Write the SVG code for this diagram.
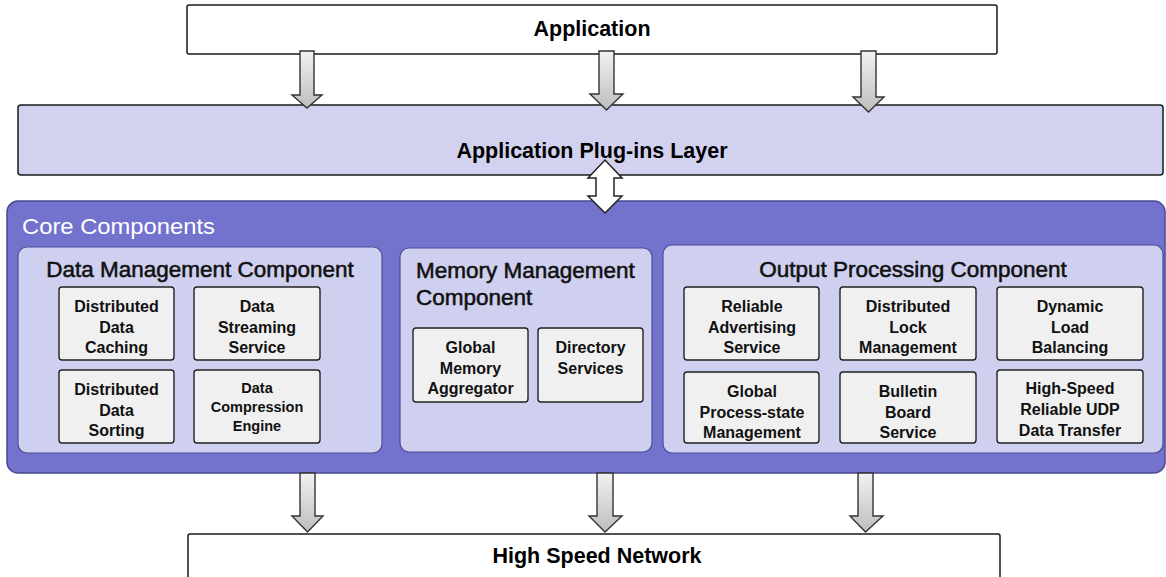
<svg xmlns="http://www.w3.org/2000/svg" width="1166" height="577" viewBox="0 0 1166 577">
<defs>
<linearGradient id="agv" x1="0" y1="0" x2="0" y2="1">
<stop offset="0" stop-color="#f2f2f2"/>
<stop offset="1" stop-color="#bdbdbd"/>
</linearGradient>
</defs>
<style>
.big{font-family:"Liberation Sans",Arial,sans-serif;font-weight:bold;font-size:21.5px;fill:#000;text-anchor:middle}
.ttl{font-family:"Liberation Sans",Arial,sans-serif;font-size:22.5px;fill:#111;stroke:#111;stroke-width:0.55}
.lbl{font-family:"Liberation Sans",Arial,sans-serif;font-weight:bold;font-size:16px;fill:#111;text-anchor:middle}
.sm{font-size:14.5px}
.layer{stroke:#1a1a1a;stroke-width:1.5}
.panel{fill:#cfd0ef;stroke:#4c4c9a;stroke-width:1.2}
.box{fill:#f0f0f0;stroke:#222;stroke-width:1.4}
.arr{fill:url(#agv);stroke:#333;stroke-width:1.4;stroke-linejoin:miter}
</style>

<g id="application">
<rect class="layer" x="187" y="5" width="810" height="49" rx="2" fill="#ffffff"/>
<text class="big" x="592" y="36">Application</text>
</g>

<g id="plugins">
<rect class="layer" x="18" y="105" width="1145" height="70" rx="3" fill="#d2d2f0"/>
<text class="big" x="592" y="158">Application Plug-ins Layer</text>
</g>

<g id="network">
<rect class="layer" x="188" y="534" width="812" height="60" rx="2" fill="#ffffff"/>
<text class="big" x="597" y="563">High Speed Network</text>
</g>

<g id="core">
<rect x="7" y="201" width="1158" height="272" rx="11" fill="#7373cd" stroke="#4a4a94" stroke-width="1.5"/>
<text x="22" y="234" font-family="'Liberation Sans',Arial,sans-serif" font-size="22" fill="#ffffff" textLength="193" lengthAdjust="spacingAndGlyphs">Core Components</text>
</g>

<g id="data-management">
<rect class="panel" x="18" y="247" width="364" height="206" rx="9"/>
<text class="ttl" x="200" y="277" text-anchor="middle">Data Management Component</text>
<g id="dm-caching">
<rect class="box" x="59" y="287" width="115" height="73" rx="3"/>
<text class="lbl" x="116.5" y="312">Distributed</text>
<text class="lbl" x="116.5" y="332.5">Data</text>
<text class="lbl" x="116.5" y="353">Caching</text>
</g>
<g id="dm-streaming">
<rect class="box" x="194" y="287" width="126" height="73" rx="3"/>
<text class="lbl" x="257" y="312">Data</text>
<text class="lbl" x="257" y="332.5">Streaming</text>
<text class="lbl" x="257" y="353">Service</text>
</g>
<g id="dm-sorting">
<rect class="box" x="59" y="370" width="115" height="73" rx="3"/>
<text class="lbl" x="116.5" y="395">Distributed</text>
<text class="lbl" x="116.5" y="415.5">Data</text>
<text class="lbl" x="116.5" y="436">Sorting</text>
</g>
<g id="dm-compression">
<rect class="box" x="194" y="370" width="126" height="73" rx="3"/>
<text class="lbl sm" x="257" y="393">Data</text>
<text class="lbl sm" x="257" y="412">Compression</text>
<text class="lbl sm" x="257" y="431">Engine</text>
</g>
</g>

<g id="memory-management">
<rect class="panel" x="400" y="248" width="252" height="204" rx="9"/>
<text class="ttl" x="416" y="278">Memory Management</text>
<text class="ttl" x="416" y="305">Component</text>
<g id="mm-aggregator">
<rect class="box" x="413" y="328" width="115" height="74" rx="3"/>
<text class="lbl" x="470.5" y="353">Global</text>
<text class="lbl" x="470.5" y="374">Memory</text>
<text class="lbl" x="470.5" y="394">Aggregator</text>
</g>
<g id="mm-directory">
<rect class="box" x="538" y="328" width="105" height="74" rx="3"/>
<text class="lbl" x="590.5" y="353">Directory</text>
<text class="lbl" x="590.5" y="374">Services</text>
</g>
</g>

<g id="output-processing">
<rect class="panel" x="663" y="245" width="500" height="208" rx="9"/>
<text class="ttl" x="913" y="277" text-anchor="middle">Output Processing Component</text>
<g id="op-advertising">
<rect class="box" x="684" y="287" width="135" height="73" rx="3"/>
<text class="lbl" x="752" y="312">Reliable</text>
<text class="lbl" x="752" y="333">Advertising</text>
<text class="lbl" x="752" y="353">Service</text>
</g>
<g id="op-lock">
<rect class="box" x="840" y="287" width="136" height="73" rx="3"/>
<text class="lbl" x="908" y="312">Distributed</text>
<text class="lbl" x="908" y="333">Lock</text>
<text class="lbl" x="908" y="353">Management</text>
</g>
<g id="op-balancing">
<rect class="box" x="997" y="287" width="146" height="73" rx="3"/>
<text class="lbl" x="1070" y="312">Dynamic</text>
<text class="lbl" x="1070" y="333">Load</text>
<text class="lbl" x="1070" y="353">Balancing</text>
</g>
<g id="op-process-state">
<rect class="box" x="684" y="372" width="135" height="71" rx="3"/>
<text class="lbl" x="752" y="397">Global</text>
<text class="lbl" x="752" y="418">Process-state</text>
<text class="lbl" x="752" y="438">Management</text>
</g>
<g id="op-bulletin">
<rect class="box" x="840" y="372" width="136" height="71" rx="3"/>
<text class="lbl" x="908" y="397">Bulletin</text>
<text class="lbl" x="908" y="418">Board</text>
<text class="lbl" x="908" y="438">Service</text>
</g>
<g id="op-udp">
<rect class="box" x="997" y="370" width="146" height="73" rx="3"/>
<text class="lbl" x="1070" y="394">High-Speed</text>
<text class="lbl" x="1070" y="415">Reliable  UDP</text>
<text class="lbl" x="1070" y="436">Data Transfer</text>
</g>
</g>

<g id="connectors">
<path class="arr" d="M300,51 H314 V95 H322 L307,108 L292,95 H300 Z"/>
<path class="arr" d="M599,51 H614 V94 H623 L606.5,110 L590,94 H599 Z"/>
<path class="arr" d="M861,51 H876 V97 H884 L868.5,112 L853,97 H861 Z"/>
<path d="M605,160 L622,178 H614 V196 H622 L605,213 L588,196 H596 V178 H588 Z" fill="#ffffff" stroke="#222" stroke-width="1.5"/>
<path class="arr" d="M300,473 H315 V516 H323 L307.5,532 L292,516 H300 Z"/>
<path class="arr" d="M597,473 H613 V516 H622 L605,532 L589,516 H597 Z"/>
<path class="arr" d="M858,473 H873 V516 H883 L865.5,532 L850,516 H858 Z"/>
</g>
</svg>
